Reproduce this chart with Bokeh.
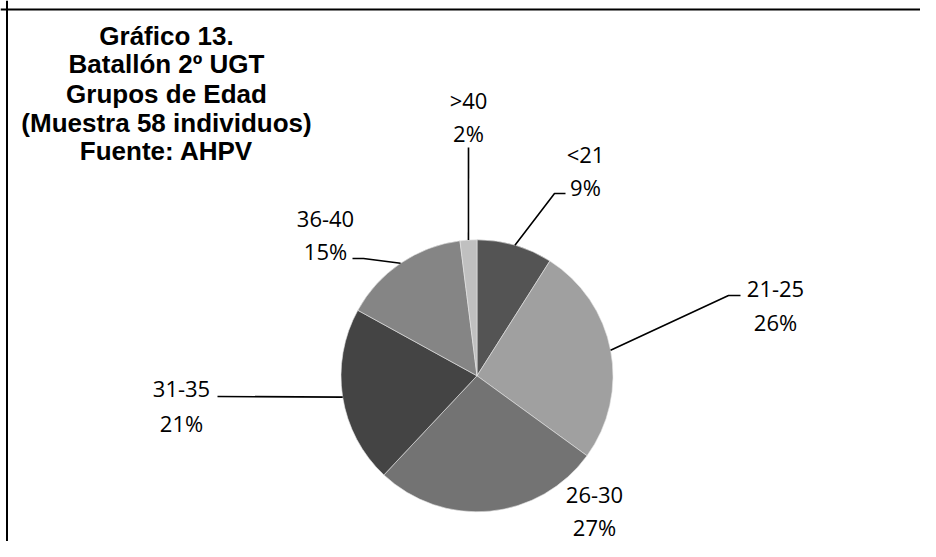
import math
from bokeh.plotting import figure
from bokeh.models import Range1d, Span
from bokeh.embed import file_html
from bokeh.resources import INLINE
from bokeh.core.properties import value

# ---- data ----
categories = ["<21", "21-25", "26-30", "31-35", "36-40", ">40"]
percentages = [9, 26, 27, 21, 15, 2]
colors = ["#545454", "#a0a0a0", "#737373", "#444444", "#858585", "#c0c0c0"]
title_lines = ["Gráfico 13.", "Batallón 2º UGT", "Grupos de Edad",
               "(Muestra 58 individuos)", "Fuente: AHPV"]

# ---- layout (screenshot pixel coordinates) ----
W, H = 920, 541
def X(ix):
    return ix
def Y(iy):
    return H - iy

center = (476.5, 375.3)
R = 136
label_pos = {
    "<21": (585, 153, 186),
    "21-25": (775, 288, 321),
    "26-30": (594, 494, 526),
    "31-35": (181, 388, 422),
    "36-40": (325, 218, 250),
    ">40": (468, 99, 132),
}
leader_pts = {
    "<21": [(554, 193), (565, 193)],
    "21-25": [(728, 295), (740, 295)],
    "26-30": [],
    "31-35": [(217, 396)],
    "36-40": [(363, 258), (352, 258)],
    ">40": [(468, 147)],
}
title_x = 166
title_y = [35, 63, 93, 122, 150]

p = figure(width=W, height=H, x_range=Range1d(0, W), y_range=Range1d(0, H),
           output_backend="svg", toolbar_location=None,
           x_axis_location=None, y_axis_location=None, min_border=0)
p.grid.visible = False
p.outline_line_color = None
p.background_fill_color = "white"
p.border_fill_color = "white"

cx, cy = X(center[0]), Y(center[1])
total = sum(percentages)
starts, ends, mids = [], [], []
cum = 0.0
for v in percentages:
    a0 = cum / total
    cum += v
    a1 = cum / total
    starts.append(math.pi / 2 - 2 * math.pi * a0)
    ends.append(math.pi / 2 - 2 * math.pi * a1)
    mids.append(2 * math.pi * (a0 + a1) / 2)  # clockwise from top

p.wedge(x=[cx] * len(categories), y=[cy] * len(categories), radius=R,
        start_angle=starts, end_angle=ends, direction="clock",
        fill_color=colors, line_color="#e6e6e6", line_width=0.6)

# leader lines
xs, ys = [], []
for cat, m in zip(categories, mids):
    pts = leader_pts[cat]
    if not pts:
        continue
    ex = cx + R * math.sin(m)
    ey = cy + R * math.cos(m)
    xs.append([ex] + [X(a) for a, b in pts])
    ys.append([ey] + [Y(b) for a, b in pts])
p.multi_line(xs=xs, ys=ys, line_color="black", line_width=1.6)

# labels
for cat, v in zip(categories, percentages):
    lx, ly1, ly2 = label_pos[cat]
    p.text(x=[X(lx)], y=[Y(ly1)], text=[cat], text_align="center",
           text_baseline="middle", text_font=value("Open Sans"),
           text_font_size="22px", text_color="black")
    p.text(x=[X(lx)], y=[Y(ly2)], text=[f"{v}%"], text_align="center",
           text_baseline="middle", text_font=value("Open Sans"),
           text_font_size="22px", text_color="black")

# title
for t, ty in zip(title_lines, title_y):
    p.text(x=[X(title_x)], y=[Y(ty)], text=[t], text_align="center",
           text_baseline="middle", text_font=value("Liberation Sans"),
           text_font_style="bold", text_font_size="26px", text_color="black")

# chart area border (top and left visible)
p.add_layout(Span(location=Y(9), dimension="width", line_color="black", line_width=2))
p.add_layout(Span(location=6.5, dimension="height", line_color="black", line_width=2))

open("out.html", "w").write(file_html(p, INLINE))
